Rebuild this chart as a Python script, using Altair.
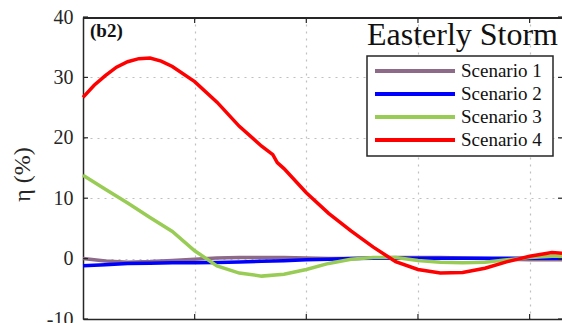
import altair as alt
import pandas as pd

# ---------------- data ----------------
series_names = ["Scenario 1", "Scenario 2", "Scenario 3", "Scenario 4"]
series_colors = ["#8c6a88", "#0000ff", "#99cc55", "#ff0000"]
series_widths = [3.5, 3.5, 3.5, 4.0]

x_common = [0.0, 0.2, 0.4, 0.6, 0.8, 1.0, 1.2, 1.4, 1.6, 1.8, 2.0,
            2.2, 2.4, 2.6, 2.8, 3.0, 3.2, 3.4, 3.6, 3.8, 4.0, 4.2, 4.29]

s1_y = [0.0, -0.4, -0.6, -0.5, -0.3, -0.1, 0.1, 0.2, 0.2, 0.2, 0.1,
        0.0, 0.0, 0.1, 0.2, 0.2, 0.2, 0.1, 0.0, -0.1, -0.2, -0.2, -0.2]
s2_y = [-1.2, -1.0, -0.8, -0.75, -0.7, -0.7, -0.65, -0.55, -0.45, -0.35, -0.2,
        -0.1, 0.0, 0.05, 0.05, 0.05, 0.05, 0.05, 0.05, 0.05, 0.05, 0.05, 0.05]
s3_y = [13.8, 11.5, 9.2, 6.8, 4.5, 1.3, -1.2, -2.4, -2.9, -2.6, -1.8,
        -0.8, -0.1, 0.2, 0.2, -0.3, -0.6, -0.7, -0.6, -0.2, 0.2, 0.4, 0.4]

x_s4 = [0.0, 0.1, 0.2, 0.3, 0.4, 0.5, 0.6, 0.7, 0.8, 1.0, 1.2, 1.4, 1.6,
        1.7, 1.74, 1.8, 2.0, 2.2, 2.4, 2.6, 2.8, 3.0, 3.2, 3.4, 3.6, 3.8,
        4.0, 4.2, 4.29]
s4_y = [26.7, 28.7, 30.3, 31.7, 32.6, 33.1, 33.2, 32.7, 31.8, 29.3, 25.9,
        21.9, 18.6, 17.2, 15.9, 14.9, 10.9, 7.5, 4.6, 1.9, -0.5, -1.8,
        -2.4, -2.3, -1.6, -0.5, 0.4, 1.0, 0.9]

y_ticks = [-10, 0, 10, 20, 30, 40]
x_ticks = [1, 2, 3, 4]
y_title = "η (%)"
panel_label = ["(b2)"]
storm_title = ["Easterly Storm"]

# ---------------- build table ----------------
rows = []
for name, ys_ in zip(series_names[:3], [s1_y, s2_y, s3_y]):
    for xv, yv in zip(x_common, ys_):
        rows.append({"series": name, "x": xv, "y": yv})
for xv, yv in zip(x_s4, s4_y):
    rows.append({"series": series_names[3], "x": xv, "y": yv})
df = pd.DataFrame(rows)
legend_df = pd.DataFrame({"series": series_names})

W, H = 479, 302
AX = "#262626"
FONT = "Liberation Serif"
GRID = "#c0c0c0"

xs = alt.Scale(domain=[0, 4.29], nice=False, zero=False)
ys = alt.Scale(domain=[-10, 40], nice=False, zero=False)
cs = alt.Scale(domain=series_names, range=series_colors)
legend_rows = alt.Scale(type="point", domain=series_names, range=[54, 123], padding=0)

lines = alt.Chart(df).mark_line(interpolate="linear").encode(
    x=alt.X("x:Q", scale=xs, axis=alt.Axis(
        values=x_ticks, labels=False, ticks=False, domain=True,
        domainColor=AX, domainWidth=1.5, grid=True, gridColor=GRID,
        gridDash=[2, 5], gridWidth=1.2, title=None)),
    y=alt.Y("y:Q", scale=ys, axis=alt.Axis(
        values=y_ticks, ticks=False, domain=True, domainColor=AX,
        domainWidth=1.5, grid=True, gridColor=GRID, gridDash=[2, 5],
        gridWidth=1.2, labelFont=FONT, labelFontSize=20, labelColor=AX,
        labelPadding=10, labelFlush=False,
        labelExpr="replace(datum.label, '\u2212', '-')",
        title=y_title, titleFont=FONT, titleFontSize=24, titleFontWeight="normal",
        titleColor=AX, titleAngle=270, titleX=-61, titleY=157,
        titleAlign="center", titleBaseline="middle")),
    color=alt.Color("series:N", scale=cs, legend=None),
    strokeWidth=alt.StrokeWidth("series:N", scale=alt.Scale(domain=series_names, range=series_widths),
                                legend=None),
)

ydf = pd.DataFrame({"v": y_ticks})
xdf = pd.DataFrame({"v": x_ticks})

# inward tick marks on all four sides and a top border line
left_ticks = alt.Chart(ydf).mark_rule(color=AX, strokeWidth=1.2).encode(
    y=alt.Y("v:Q", scale=ys, axis=None), x=alt.value(0), x2=alt.value(5))
right_ticks = alt.Chart(ydf).mark_rule(color=AX, strokeWidth=1.2).encode(
    y=alt.Y("v:Q", scale=ys, axis=None), x=alt.value(W - 4), x2=alt.value(W))
bottom_ticks = alt.Chart(xdf).mark_rule(color=AX, strokeWidth=1.2).encode(
    x=alt.X("v:Q", scale=xs, axis=None), y=alt.value(H), y2=alt.value(H - 5))
top_ticks = alt.Chart(xdf).mark_rule(color=AX, strokeWidth=1.2).encode(
    x=alt.X("v:Q", scale=xs, axis=None), y=alt.value(1), y2=alt.value(6))
top_border = alt.Chart(pd.DataFrame({"b": [0]})).mark_rule(color=AX, strokeWidth=2).encode(
    y=alt.value(1), x=alt.value(0), x2=alt.value(W))

# legend drawn from the series list through a point scale
leg_box = alt.Chart(pd.DataFrame({"b": [0]})).mark_rect(
    fill="white", stroke=AX, strokeWidth=1.5).encode(
    x=alt.value(284), x2=alt.value(470), y=alt.value(39), y2=alt.value(139))
leg_lines = alt.Chart(legend_df).mark_rule(strokeWidth=4).encode(
    y=alt.Y("series:N", scale=legend_rows, axis=None),
    x=alt.value(292), x2=alt.value(372),
    color=alt.Color("series:N", scale=cs, legend=None))
leg_text = alt.Chart(legend_df).mark_text(
    align="left", baseline="middle", font=FONT, fontSize=19, color="#111111").encode(
    y=alt.Y("series:N", scale=legend_rows, axis=None),
    x=alt.value(378), text="series:N")

label_b2 = alt.Chart(pd.DataFrame({"t": panel_label})).mark_text(
    align="left", baseline="alphabetic", font=FONT, fontSize=19,
    fontWeight="bold", color="#111111").encode(
    x=alt.value(7), y=alt.value(20), text="t:N")
label_storm = alt.Chart(pd.DataFrame({"t": storm_title})).mark_text(
    align="right", baseline="alphabetic", font=FONT, fontSize=32,
    color="#111111").encode(
    x=alt.value(475), y=alt.value(28), text="t:N")

chart = alt.layer(
    lines, top_border, top_ticks, right_ticks, left_ticks, bottom_ticks,
    label_b2, label_storm, leg_box, leg_lines, leg_text
).resolve_scale(x="independent", y="independent").resolve_axis(
    x="independent", y="independent").properties(
    width=W, height=H,
    background="white",
    autosize=alt.AutoSizeParams(type="none"),
    padding={"left": 83, "top": 17, "right": 0, "bottom": 4},
).configure_view(stroke=None)

chart.save("out.html", embed_options={"renderer": "svg", "actions": False})
